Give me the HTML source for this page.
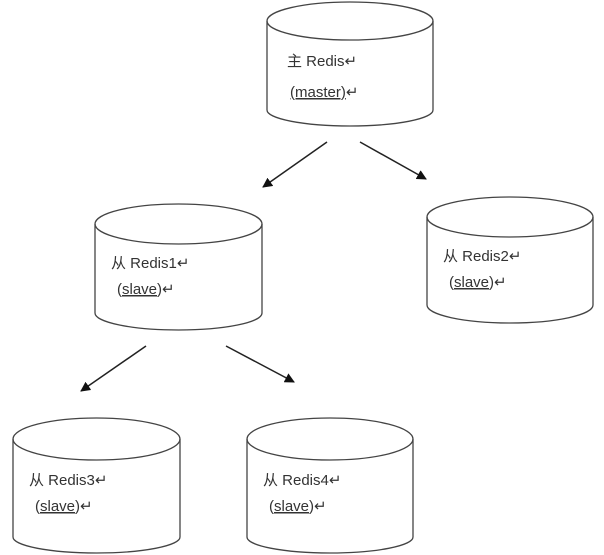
<!DOCTYPE html>
<html><head><meta charset="utf-8"><style>
html,body{margin:0;padding:0;background:#fff;width:604px;height:555px;overflow:hidden}
svg{display:block}
text{font-family:"Liberation Sans","Noto Sans CJK SC",sans-serif;font-size:15px;fill:#333}
.u{text-decoration:underline;text-decoration-style:wavy;text-decoration-color:#8a8}
</style></head><body>
<svg width="604" height="555" viewBox="0 0 604 555" xmlns="http://www.w3.org/2000/svg">
<defs><marker id="a" markerWidth="10" markerHeight="10" refX="9" refY="5" orient="auto" markerUnits="userSpaceOnUse"><path d="M0,0 L10,5 L0,10 z" fill="#111"/></marker></defs>
<g fill="none" stroke="#444" stroke-width="1.3">
<!-- master -->
<path d="M267,21 L267,110 A83,16 0 0 0 433,110 L433,21"/>
<ellipse cx="350" cy="21" rx="83" ry="19"/>
<!-- slave1 -->
<path d="M95,224 L95,313 A83.5,17 0 0 0 262,313 L262,224"/>
<ellipse cx="178.5" cy="224" rx="83.5" ry="20"/>
<!-- slave2 -->
<path d="M427,217 L427,305 A83,18 0 0 0 593,305 L593,217"/>
<ellipse cx="510" cy="217" rx="83" ry="20"/>
<!-- slave3 -->
<path d="M13,439 L13,537 A83.5,16 0 0 0 180,537 L180,439"/>
<ellipse cx="96.5" cy="439" rx="83.5" ry="21"/>
<!-- slave4 -->
<path d="M247,439 L247,537 A83,16 0 0 0 413,537 L413,439"/>
<ellipse cx="330" cy="439" rx="83" ry="21"/>
</g>
<g stroke="#222" stroke-width="1.5" marker-end="url(#a)">
<line x1="327" y1="142" x2="263" y2="187"/>
<line x1="360" y1="142" x2="426" y2="179"/>
<line x1="146" y1="346" x2="81" y2="391"/>
<line x1="226" y1="346" x2="294" y2="382"/>
</g>
<text x="287" y="66">主 Redis↵</text>
<text x="290" y="97"><tspan class="u">(master)</tspan>↵</text>
<text x="111" y="268">从 Redis1↵</text>
<text x="117" y="294">(<tspan class="u">slave</tspan>)↵</text>
<text x="443" y="261">从 Redis2↵</text>
<text x="449" y="287">(<tspan class="u">slave</tspan>)↵</text>
<text x="29" y="485">从 Redis3↵</text>
<text x="35" y="511">(<tspan class="u">slave</tspan>)↵</text>
<text x="263" y="485">从 Redis4↵</text>
<text x="269" y="511">(<tspan class="u">slave</tspan>)↵</text>
</svg>
</body></html>
